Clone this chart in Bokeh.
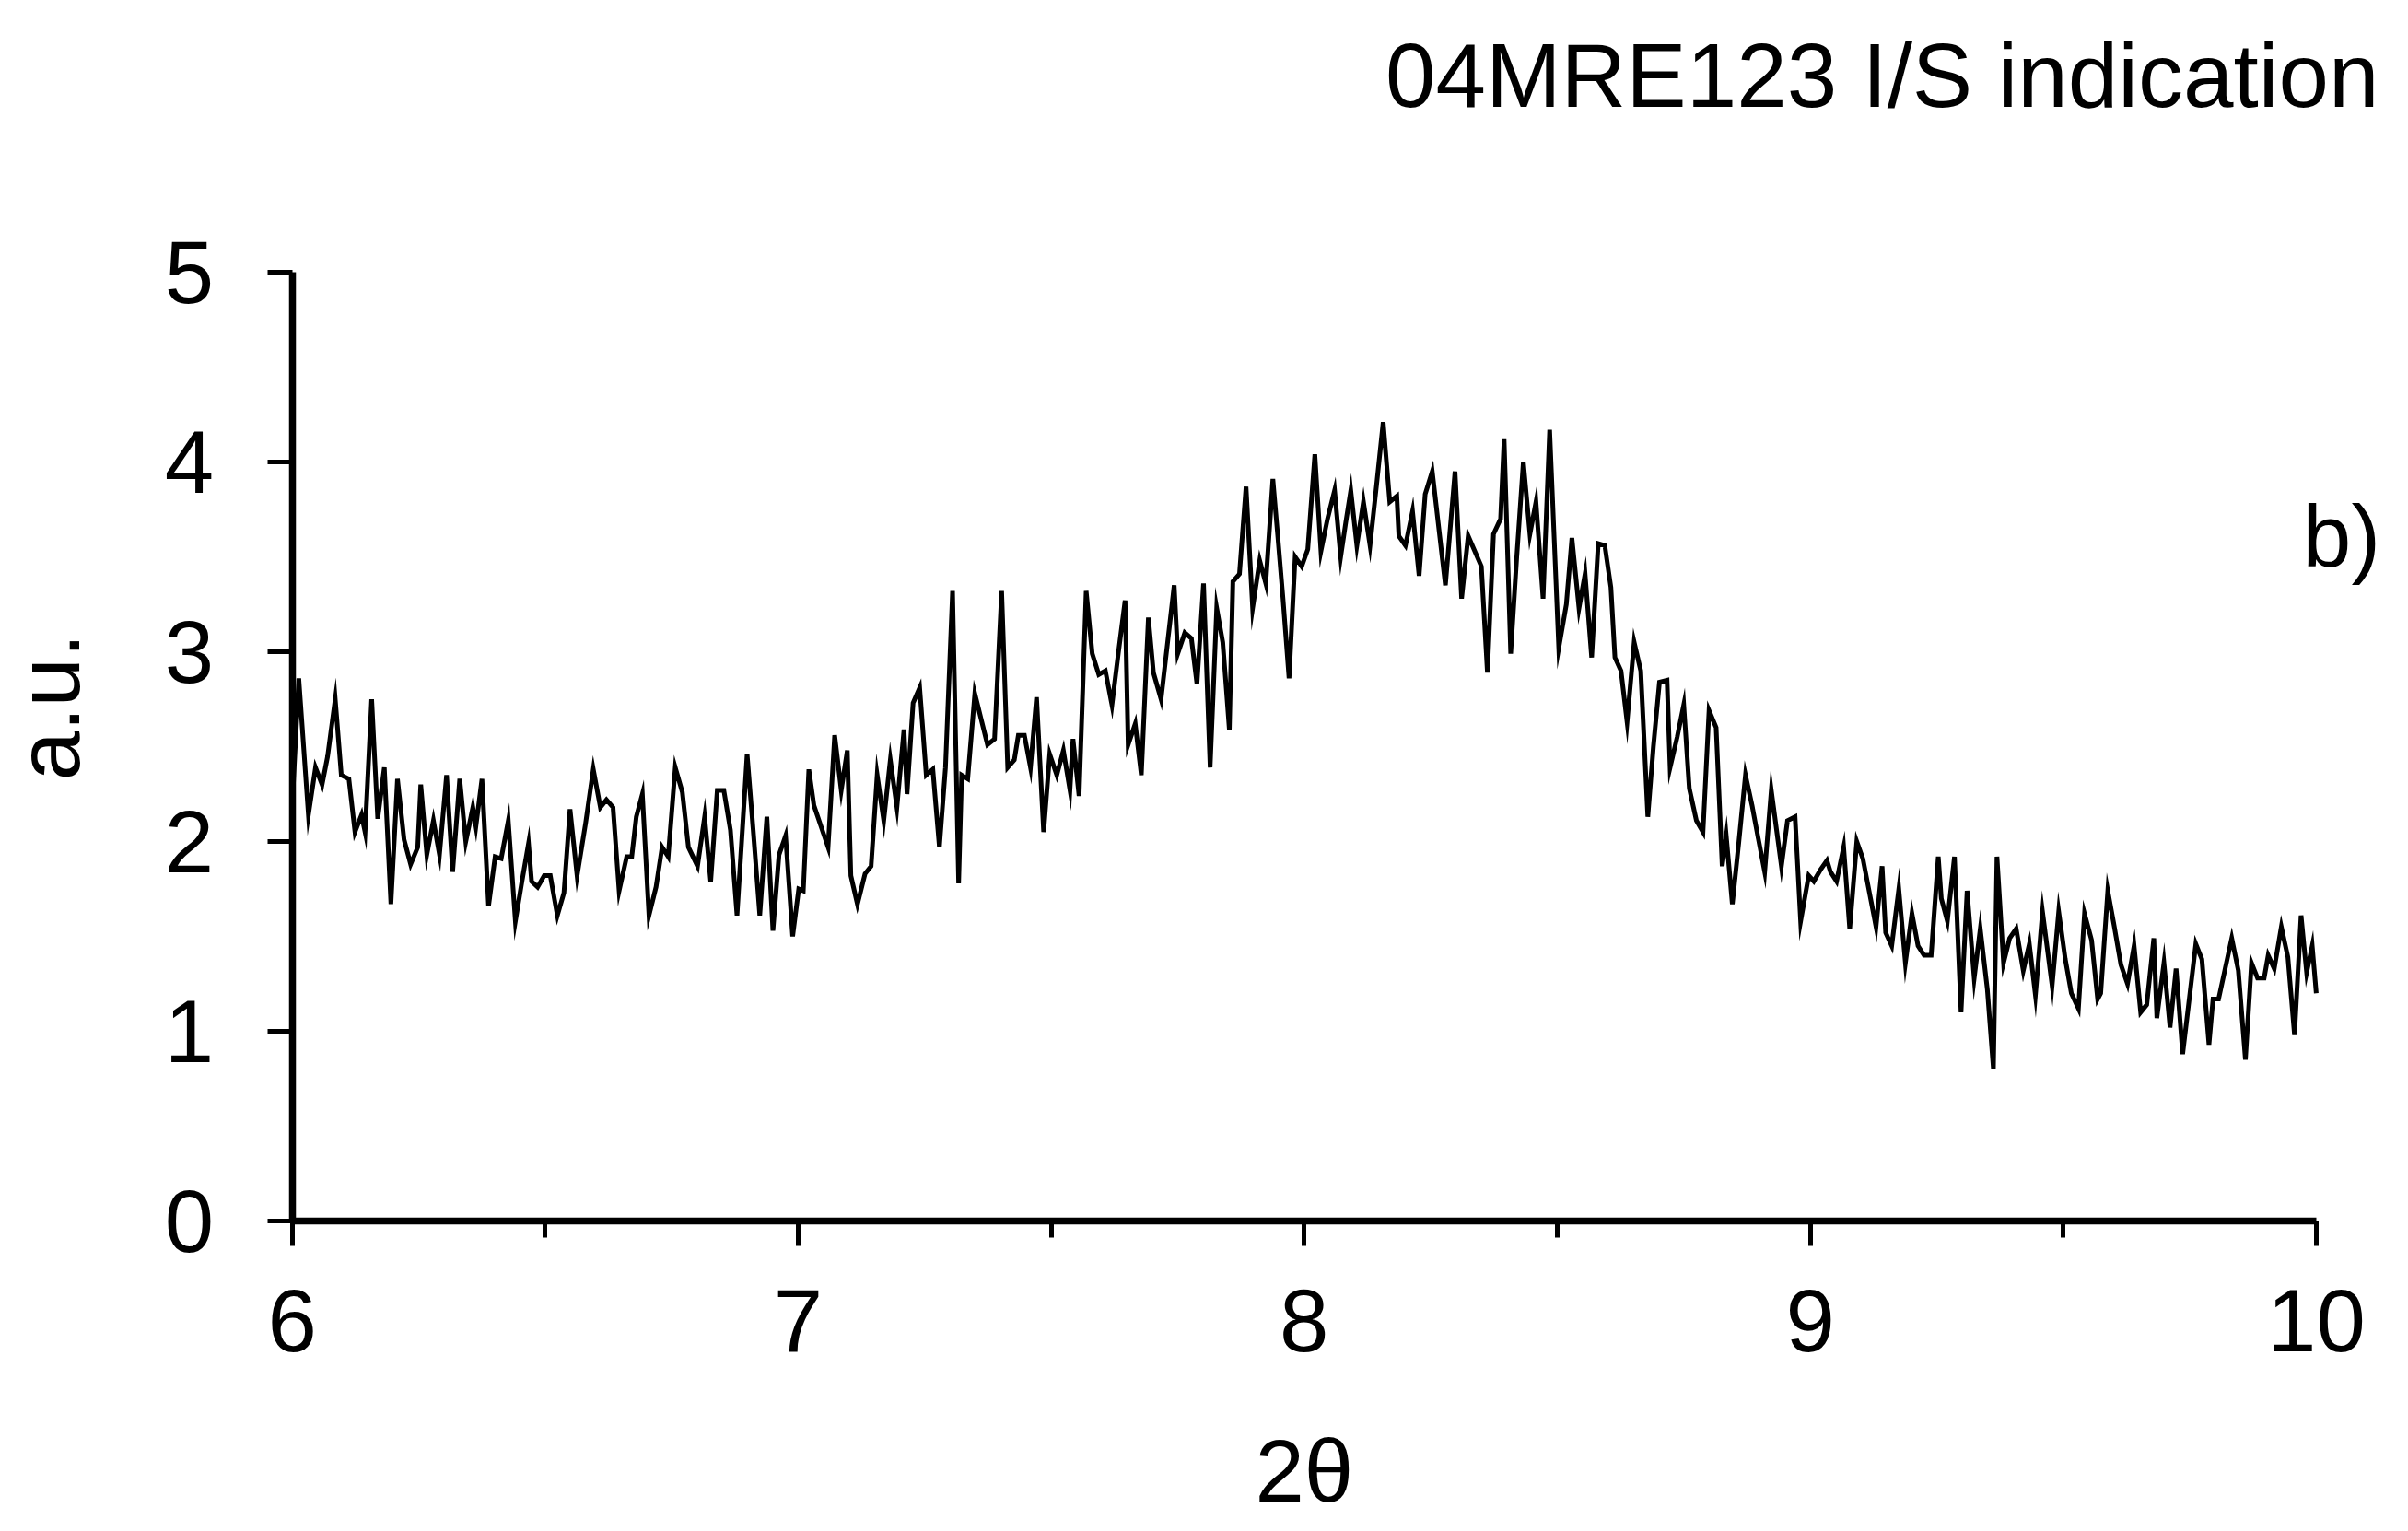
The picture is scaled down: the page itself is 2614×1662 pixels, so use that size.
import math
from bokeh.plotting import figure
from bokeh.models import Range1d, SingleIntervalTicker, Label
from bokeh.embed import file_html
from bokeh.resources import INLINE

# ---- data ----
two_theta = [
    6.000, 6.013, 6.032, 6.046, 6.059, 6.070, 6.085, 6.097, 6.112, 6.124,
    6.137, 6.144, 6.157, 6.169, 6.182, 6.195, 6.208, 6.221, 6.234, 6.248,
    6.254, 6.266, 6.279, 6.291, 6.305, 6.317, 6.331, 6.343, 6.357, 6.363,
    6.375, 6.388, 6.401, 6.413, 6.427, 6.441, 6.454, 6.467, 6.473, 6.485,
    6.498, 6.510,
    6.524, 6.537, 6.549, 6.563, 6.580, 6.595, 6.609, 6.621, 6.634, 6.646,
    6.661, 6.671, 6.680, 6.692, 6.705, 6.719, 6.731, 6.743, 6.757, 6.771,
    6.783, 6.801, 6.815, 6.827, 6.840, 6.853, 6.866, 6.879, 6.899, 6.911,
    6.924, 6.938, 6.950, 6.962, 6.975, 6.989, 7.001, 7.010,
    7.021, 7.031, 7.045, 7.059, 7.072, 7.085, 7.097, 7.104, 7.117, 7.132,
    7.144, 7.156, 7.169, 7.182, 7.195, 7.209, 7.215, 7.227, 7.240, 7.253,
    7.266, 7.279, 7.291, 7.305, 7.317, 7.323, 7.335, 7.349, 7.361, 7.374,
    7.388, 7.402, 7.414, 7.427, 7.435, 7.447, 7.459, 7.471, 7.485, 7.497,
    7.511, 7.524, 7.537, 7.543, 7.555, 7.569, 7.581, 7.594, 7.607, 7.620,
    7.633, 7.646, 7.652, 7.666, 7.678, 7.692, 7.702, 7.717, 7.730, 7.743,
    7.750, 7.764, 7.777, 7.788, 7.801, 7.814, 7.827, 7.839, 7.852, 7.859,
    7.872, 7.885, 7.898, 7.912, 7.924, 7.938, 7.948, 7.958, 7.970, 7.982,
    7.995, 8.007,
    8.021, 8.033, 8.046, 8.060, 8.072, 8.082, 8.092, 8.104, 8.117, 8.130,
    8.143, 8.156, 8.169, 8.183, 8.187, 8.200, 8.214, 8.227, 8.239, 8.253,
    8.266, 8.279, 8.298, 8.311, 8.324, 8.337, 8.350, 8.362, 8.374, 8.388,
    8.395, 8.408, 8.420, 8.433, 8.446, 8.458, 8.472, 8.485, 8.503, 8.518,
    8.529, 8.543, 8.555, 8.568, 8.581, 8.594, 8.606, 8.614, 8.626, 8.638,
    8.652, 8.665, 8.679, 8.690, 8.702, 8.717, 8.723, 8.737, 8.750, 8.761,
    8.775, 8.788, 8.800, 8.814, 8.826, 8.834, 8.846, 8.859, 8.872, 8.885,
    8.897, 8.910, 8.923, 8.943, 8.955, 8.970, 8.981,
    8.997, 9.007, 9.020, 9.033, 9.040, 9.052, 9.066, 9.078, 9.092, 9.104,
    9.117, 9.130, 9.142, 9.149, 9.161, 9.175, 9.188, 9.201, 9.213, 9.225,
    9.239, 9.253, 9.259, 9.271, 9.285, 9.298, 9.310, 9.324, 9.336, 9.350,
    9.362, 9.369, 9.382, 9.394, 9.407, 9.421, 9.433, 9.445, 9.459, 9.478,
    9.491,
    9.504, 9.516, 9.530, 9.542, 9.556, 9.568, 9.574, 9.588, 9.601, 9.614,
    9.627, 9.640, 9.653, 9.665, 9.679, 9.685, 9.699, 9.711, 9.723, 9.736,
    9.749, 9.762, 9.774, 9.788, 9.796, 9.807, 9.820, 9.833, 9.846, 9.860,
    9.872, 9.884, 9.897, 9.905, 9.917, 9.931, 9.944, 9.957, 9.970, 9.981,
    9.992, 10.000,
]

intensity = [
    2.19, 2.86, 2.14, 2.39, 2.30, 2.45, 2.75, 2.35, 2.33, 2.05,
    2.14, 2.05, 2.75, 2.12, 2.39, 1.67, 2.33, 2.01, 1.88, 1.97,
    2.30, 1.93, 2.11, 1.93, 2.35, 1.84, 2.33, 2.00, 2.18, 2.08,
    2.33, 1.66, 1.92, 1.91, 2.11, 1.58, 1.79, 1.99, 1.79, 1.76,
    1.82, 1.82,
    1.61, 1.73, 2.17, 1.82, 2.10, 2.38, 2.18, 2.22, 2.18, 1.74,
    1.92, 1.92, 2.13, 2.25, 1.61, 1.76, 1.97, 1.92, 2.39, 2.26,
    1.97, 1.87, 2.13, 1.79, 2.27, 2.27, 2.06, 1.61, 2.46, 2.06,
    1.61, 2.13, 1.53, 1.93, 2.03, 1.50, 1.75, 1.74,
    2.38, 2.19, 2.08, 1.97, 2.56, 2.27, 2.48, 1.82, 1.67, 1.83,
    1.87, 2.35, 2.11, 2.43, 2.18, 2.59, 2.25, 2.73, 2.81, 2.35,
    2.38, 1.97, 2.39, 3.32, 1.78, 2.35, 2.33, 2.78, 2.65, 2.51,
    2.54, 3.32, 2.39, 2.43, 2.56, 2.56, 2.39, 2.76, 2.05, 2.46,
    2.35, 2.48, 2.27, 2.54, 2.24, 3.32, 2.99, 2.88, 2.90, 2.72,
    3.00, 3.27, 2.51, 2.62, 2.35, 3.18, 2.89, 2.75, 3.05, 3.35,
    2.99, 3.10, 3.07, 2.83, 3.36, 2.39, 3.23, 3.05, 2.59, 3.37,
    3.41, 3.87, 3.23, 3.48, 3.36, 3.91, 3.60, 3.28, 2.86, 3.50,
    3.45, 3.54,
    4.04, 3.53, 3.70, 3.85, 3.50, 3.68, 3.85, 3.56, 3.79, 3.56,
    3.88, 4.21, 3.79, 3.82, 3.61, 3.56, 3.74, 3.40, 3.83, 3.95,
    3.65, 3.35, 3.95, 3.28, 3.61, 3.53, 3.45, 2.89, 3.62, 3.70,
    4.12, 2.99, 3.50, 4.00, 3.62, 3.79, 3.28, 4.17, 3.02, 3.25,
    3.60, 3.23, 3.41, 2.97, 3.57, 3.56, 3.34, 2.97, 2.90, 2.63,
    3.05, 2.90, 2.13, 2.50, 2.84, 2.85, 2.39, 2.55, 2.72, 2.28,
    2.11, 2.05, 2.69, 2.60, 1.87, 2.03, 1.67, 2.00, 2.35, 2.19,
    2.02, 1.84, 2.27, 1.87, 2.11, 2.13, 1.58,
    1.82, 1.79, 1.85, 1.90, 1.84, 1.79, 1.97, 1.54, 2.00, 1.91,
    1.73, 1.55, 1.87, 1.52, 1.45, 1.75, 1.36, 1.62, 1.45, 1.40,
    1.40, 1.92, 1.70, 1.58, 1.92, 1.10, 1.74, 1.28, 1.54, 1.22,
    0.80, 1.92, 1.36, 1.49, 1.54, 1.32, 1.46, 1.19, 1.63, 1.24,
    1.63,
    1.38, 1.20, 1.12, 1.62, 1.48, 1.17, 1.20, 1.74, 1.55, 1.35,
    1.25, 1.45, 1.10, 1.14, 1.49, 1.07, 1.36, 1.02, 1.33, 0.88,
    1.17, 1.46, 1.38, 0.93, 1.17, 1.17, 1.33, 1.49, 1.32, 0.85,
    1.36, 1.28, 1.28, 1.40, 1.33, 1.55, 1.39, 0.98, 1.61, 1.31,
    1.45, 1.20,
]

x_axis_bounds = (6, 10)
y_axis_bounds = (0, 5)
title_text = "04MRE123 I/S indication"
panel_text = "b)"
x_label = "2\u03b8"
y_label = "a.u."

assert len(two_theta) == len(intensity)

FONT = "Liberation Sans"

# The frame fills the whole canvas; the axes are pinned at x=6 / y=0 so that
# every text (title, panel tag, axis titles) can sit inside the frame.
p = figure(
    width=2598, height=1654,
    output_backend="svg", toolbar_location=None,
    x_range=Range1d(5.4234, 10.1531), y_range=Range1d(-1.597, 6.432),
    min_border_left=0, min_border_right=0,
    min_border_top=0, min_border_bottom=0,
)
p.outline_line_color = None
p.xgrid.grid_line_color = None
p.ygrid.grid_line_color = None
p.background_fill_color = "white"
p.border_fill_color = "white"

p.line(two_theta, intensity, line_color="black", line_width=5, line_join="miter")

p.xaxis.ticker = SingleIntervalTicker(interval=1, num_minor_ticks=2)
p.yaxis.ticker = SingleIntervalTicker(interval=1, num_minor_ticks=0)
p.xaxis.fixed_location = y_axis_bounds[0]
p.yaxis.fixed_location = x_axis_bounds[0]
p.xaxis.bounds = x_axis_bounds
p.yaxis.bounds = y_axis_bounds

for ax in (p.xaxis[0], p.yaxis[0]):
    ax.axis_line_width = 7.5
    ax.axis_line_color = "black"
    ax.major_tick_line_width = 5
    ax.major_tick_line_color = "black"
    ax.major_tick_out = 27
    ax.major_tick_in = 0
    ax.minor_tick_line_width = 5
    ax.minor_tick_line_color = "black"
    ax.minor_tick_out = 18
    ax.minor_tick_in = 0
    ax.major_label_text_font = FONT
    ax.major_label_text_font_size = "96px"
    ax.major_label_text_color = "black"

p.yaxis.minor_tick_line_color = None
p.yaxis.major_label_standoff = 58
p.xaxis.major_label_standoff = 47

p.add_layout(Label(x=10.124, y=6.034, text=title_text, text_font=FONT,
                   text_font_size="98px", text_color="black",
                   text_align="right", text_baseline="alphabetic"))
p.add_layout(Label(x=9.973, y=3.607, text=panel_text, text_font=FONT,
                   text_font_size="95px", text_color="black",
                   text_align="left", text_baseline="alphabetic"))
p.add_layout(Label(x=8.0, y=-1.316, text=x_label, text_font=FONT,
                   text_font_size="96px", text_color="black",
                   text_align="center", text_baseline="alphabetic"))
p.add_layout(Label(x=5.518, y=2.709, text=y_label, text_font=FONT,
                   text_font_size="96px", text_color="black",
                   text_align="center", text_baseline="alphabetic",
                   angle=math.pi / 2))

open("out.html", "w").write(file_html(p, INLINE))
